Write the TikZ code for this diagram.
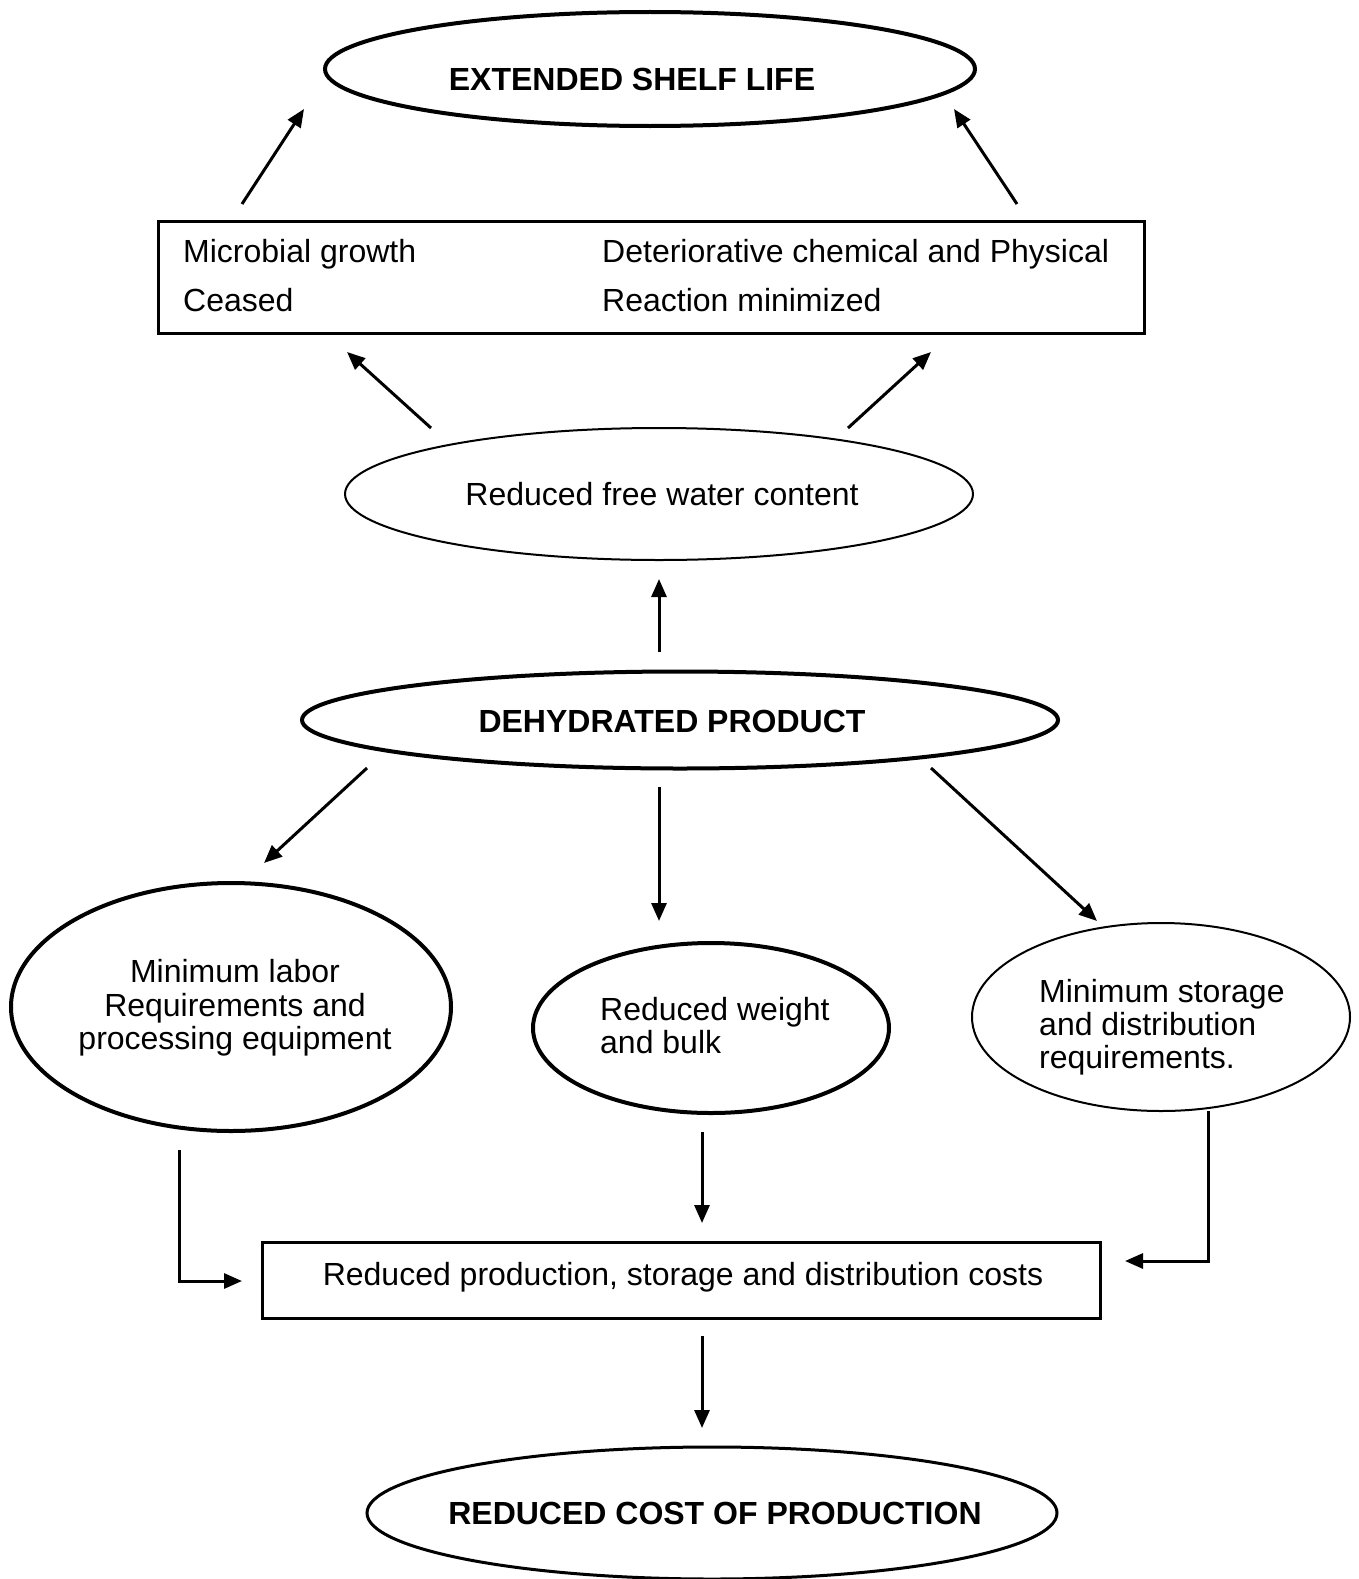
\documentclass[tikz,border=0pt]{standalone}
\usepackage{fontspec}
\setmainfont{Liberation Sans}
\usetikzlibrary{shapes.geometric,arrows.meta}
\begin{document}
\begin{tikzpicture}[x=1pt,y=-1pt,
  ell/.style={draw, ellipse, inner sep=0pt},
  arr/.style={line width=3pt, -{Triangle[length=18pt,width=15pt]}},
  txt/.style={font=\fontsize{32}{33.2}\selectfont, inner sep=0pt},
  btxt/.style={font=\fontsize{32}{33.2}\selectfont\bfseries, inner sep=0pt}]
\useasboundingbox (0,0) rectangle (1359,1579);

% top ellipse
\node[ell, line width=4pt, minimum width=650pt, minimum height=114pt] (esl) at (650,69) {};
\node[btxt, anchor=base] (esltxt) at (632,90) {EXTENDED SHELF LIFE};

% box 1
\node[draw, line width=3pt, minimum width=986pt, minimum height=112pt, inner sep=0pt] (box1) at (651,277) {};
\node[txt, anchor=base west] (mg1) at (183,262.5) {Microbial growth};
\node[txt, anchor=base west] (mg2) at (183,311.5) {Ceased};
\node[txt, anchor=base west] (dc1) at (602,262.5) {Deteriorative chemical and Physical};
\node[txt, anchor=base west] (dc2) at (602,311.5) {Reaction minimized};

% reduced free water
\node[ell, line width=2pt, minimum width=628pt, minimum height=132pt] (fw) at (659,494) {};
\node[txt, anchor=base] (fwtxt) at (662,505.5) {Reduced free water content};

% dehydrated
\node[ell, line width=4pt, minimum width=756pt, minimum height=97pt] (dp) at (680,720) {};
\node[btxt, anchor=base] (dptxt) at (672,732.5) {DEHYDRATED PRODUCT};

% three ellipses
\node[ell, line width=4pt, minimum width=440pt, minimum height=248pt] (lab) at (231,1007) {};
\node[txt, anchor=base] (lab1) at (235,982.5) {Minimum labor};
\node[txt, anchor=base] (lab2) at (235,1016.5) {Requirements and};
\node[txt, anchor=base] (lab3) at (235,1049.5) {processing equipment};

\node[ell, line width=4pt, minimum width=356pt, minimum height=170pt] (wb) at (711,1028) {};
\node[txt, anchor=base west] (wb1) at (600,1020.5) {Reduced weight};
\node[txt, anchor=base west] (wb2) at (600,1053.5) {and bulk};

\node[ell, line width=2pt, minimum width=378pt, minimum height=188pt] (sd) at (1161,1017) {};
\node[txt, anchor=base west] (sd1) at (1039,1002.5) {Minimum storage};
\node[txt, anchor=base west] (sd2) at (1039,1035.5) {and distribution};
\node[txt, anchor=base west] (sd3) at (1039,1068.5) {requirements.};

% box 2
\node[draw, line width=3pt, minimum width=838pt, minimum height=76pt, inner sep=0pt] (box2) at (681,1280) {};
\node[txt, anchor=base] (box2txt) at (683,1285.5) {Reduced production, storage and distribution costs};

% bottom ellipse
\node[ell, line width=3pt, minimum width=690pt, minimum height=132pt] (rc) at (712,1513) {};
\node[btxt, anchor=base] (rctxt) at (715,1524.5) {REDUCED COST OF PRODUCTION};

% arrow end points
\coordinate (a1s) at (242,204); \coordinate (a1e) at (304,109);
\coordinate (a2s) at (1017,204); \coordinate (a2e) at (954,109);
\coordinate (a3s) at (431,428); \coordinate (a3e) at (347,352);
\coordinate (a4s) at (848,428); \coordinate (a4e) at (931,352);
\coordinate (a5s) at (659,652); \coordinate (a5e) at (659,579);
\coordinate (a6s) at (367,768); \coordinate (a6e) at (264,863);
\coordinate (a7s) at (659,787); \coordinate (a7e) at (659,921);
\coordinate (a8s) at (931,768); \coordinate (a8e) at (1097,921);
\coordinate (a9s) at (179,1150); \coordinate (a9m) at (179,1281); \coordinate (a9e) at (242,1281);
\coordinate (a10s) at (702,1132); \coordinate (a10e) at (702,1223);
\coordinate (a11s) at (1208,1111); \coordinate (a11m) at (1208,1261); \coordinate (a11e) at (1125,1261);
\coordinate (a12s) at (702,1336); \coordinate (a12e) at (702,1428);

\draw[arr] (a1s) -- (a1e);
\draw[arr] (a2s) -- (a2e);
\draw[arr] (a3s) -- (a3e);
\draw[arr] (a4s) -- (a4e);
\draw[arr] (a5s) -- (a5e);
\draw[arr] (a6s) -- (a6e);
\draw[arr] (a7s) -- (a7e);
\draw[arr] (a8s) -- (a8e);
\draw[arr] (a9s) -- (a9m) -- (a9e);
\draw[arr] (a10s) -- (a10e);
\draw[arr] (a11s) -- (a11m) -- (a11e);
\draw[arr] (a12s) -- (a12e);
\end{tikzpicture}
\end{document}
